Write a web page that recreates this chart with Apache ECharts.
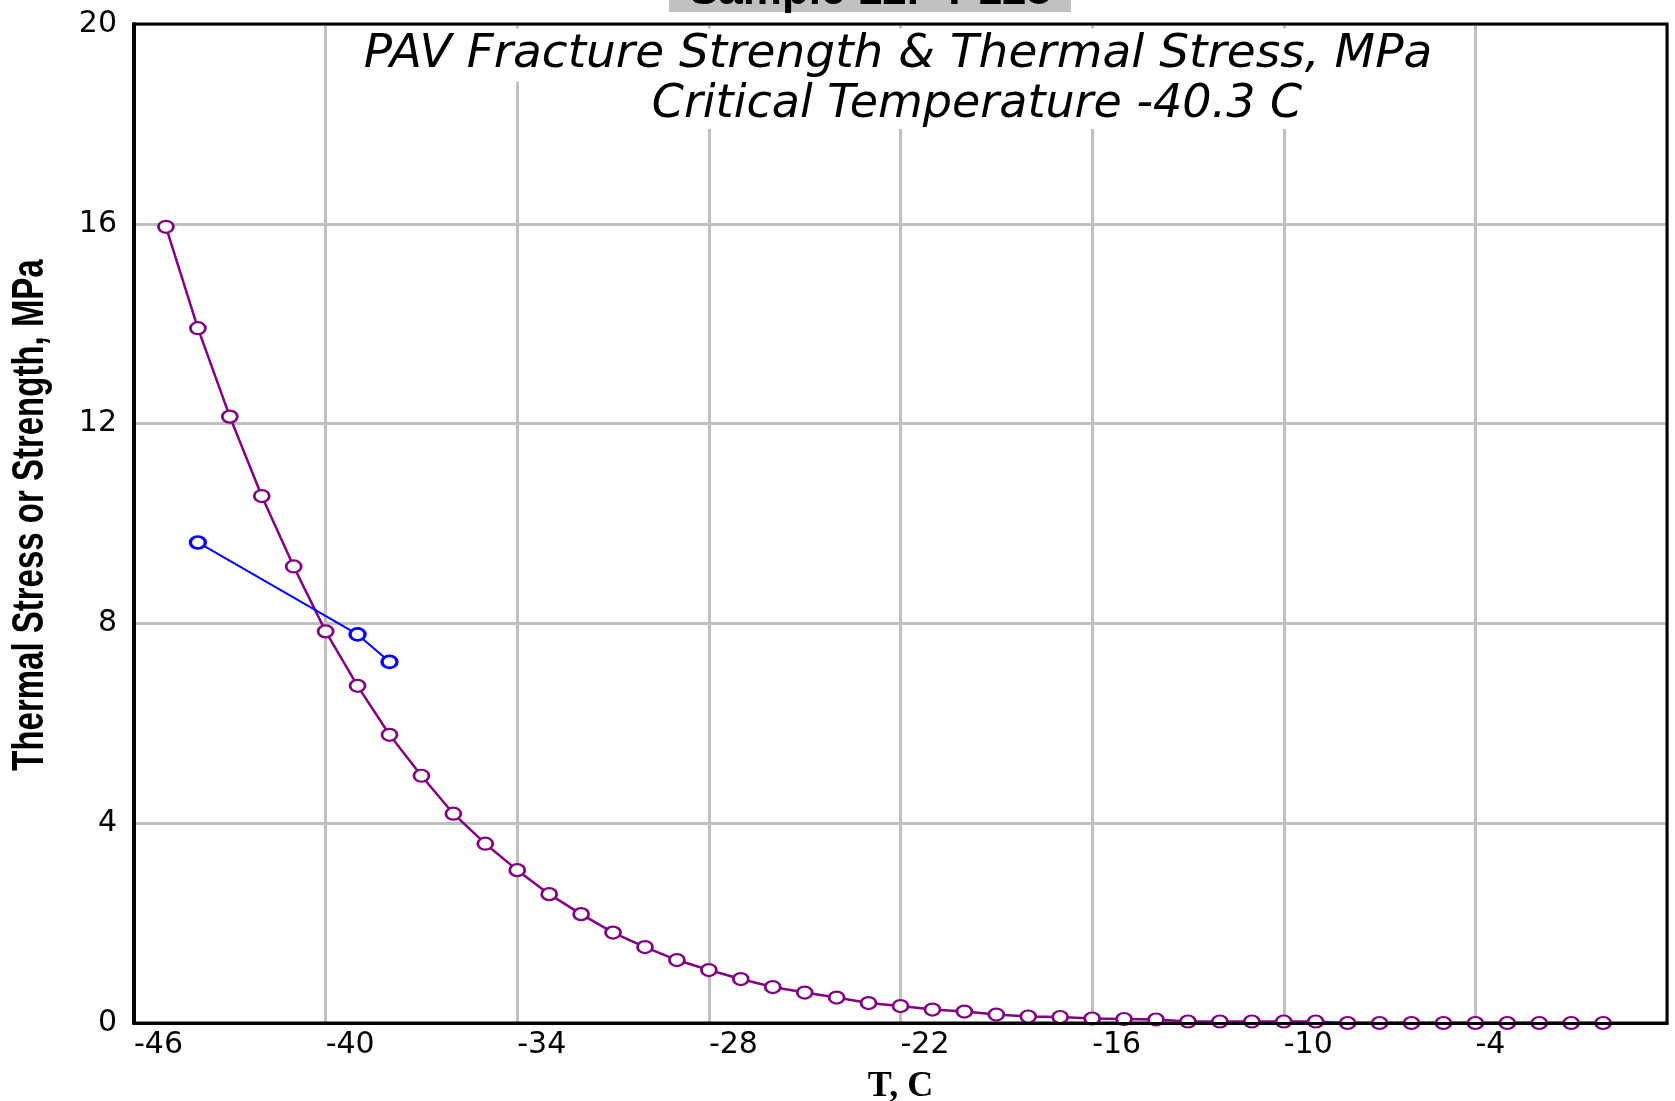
<!DOCTYPE html>
<html>
<head>
<meta charset="utf-8">
<title>PAV Fracture Strength & Thermal Stress</title>
<script src="https://cdn.jsdelivr.net/npm/echarts@6/dist/echarts.min.js"></script>
</head>
<body style="margin:0; background:#fff;">
<div id="main" style="width:1675px;height:1101px;"></div>
<script>
// thermal stress curve (purple), temperature in C
var stressT = [-45, -44, -43, -42, -41, -40, -39, -38, -37, -36,
               -35, -34, -33, -32, -31, -30, -29, -28, -27, -26,
               -25, -24, -23, -22, -21, -20, -19, -18, -17, -16,
               -15, -14, -13, -12, -11, -10, -9, -8, -7, -6,
               -5, -4, -3, -2, -1, 0];
var stressVal = [15.94, 13.91, 12.14, 10.55, 9.14, 7.84, 6.75, 5.77, 4.95, 4.19,
                 3.59, 3.06, 2.58, 2.18, 1.81, 1.52, 1.26, 1.06, 0.88, 0.72,
                 0.61, 0.51, 0.40, 0.34, 0.27, 0.23, 0.17, 0.13, 0.12, 0.09,
                 0.08, 0.07, 0.03, 0.03, 0.03, 0.03, 0.03, 0, 0, 0,
                 0, 0, 0, 0, 0, 0];

// fracture strength (blue)
var strengthT = [-44, -39, -38];
var strengthVal = [9.62, 7.78, 7.23];

var xMin = -46, xMax = 2, xStep = 6;
var yMin = 0, yMax = 20, yStep = 4;

var titleLine1 = 'PAV Fracture Strength & Thermal Stress, MPa';
var titleLine2 = 'Critical Temperature -40.3 C';
var sampleLabel = 'Sample 12P P128';

var myChart = echarts.init(document.getElementById('main'));

function pairs(xs, ys) {
    var out = [];
    for (var i = 0; i < xs.length; i++) out.push([xs[i], ys[i]]);
    return out;
}

var option = {
    backgroundColor: '#fff',
    animation: false,
    grid: {
        left: 134, right: 8, top: 24, bottom: 78, z: 1,
        outerBoundsMode: 'none', containLabel: false,
        show: true, borderColor: '#000', borderWidth: 3
    },
    xAxis: [{
        type: 'value', min: xMin, max: xMax, interval: xStep, position: 'bottom',
        name: 'T, C', nameLocation: 'middle', nameGap: 46,
        nameTextStyle: { fontFamily: 'Liberation Serif', fontWeight: 'bold', fontSize: 36, color: '#000' },
        axisLine: { onZero: false, lineStyle: { color: '#000', width: 3 } },
        axisTick: { show: false },
        axisLabel: { align: 'left', margin: 7, showMaxLabel: false,
                     fontFamily: 'DejaVu Sans', fontSize: 30, color: '#000' },
        splitLine: { show: true, lineStyle: { color: '#c0c0c0', width: 3 } }
    }, {
        // plain copy of the bottom line, drawn over the flat tail of the curve
        type: 'value', min: xMin, max: xMax, position: 'bottom', z: 5,
        axisLine: { onZero: false, lineStyle: { color: '#000', width: 3 } },
        axisTick: { show: false }, axisLabel: { show: false }, splitLine: { show: false }
    }],
    yAxis: {
        type: 'value', min: yMin, max: yMax, interval: yStep,
        axisLine: { show: true, onZero: false, lineStyle: { color: '#000', width: 4 } },
        axisTick: { show: false },
        axisLabel: { margin: 17, fontFamily: 'DejaVu Sans', fontSize: 30, color: '#000',
                     padding: [0, 0, 6, 0] },
        splitLine: { show: true, lineStyle: { color: '#c0c0c0', width: 3 } }
    },
    series: [{
        name: 'Thermal Stress', type: 'line', xAxisIndex: 0,
        data: pairs(stressT, stressVal),
        symbol: 'circle', symbolSize: [15, 12],
        lineStyle: { color: '#800080', width: 2.5 },
        itemStyle: { color: '#fff', borderColor: '#800080', borderWidth: 2.5 },
        emphasis: { disabled: true }
    }, {
        name: 'Fracture Strength', type: 'line', xAxisIndex: 0,
        data: pairs(strengthT, strengthVal),
        symbol: 'circle', symbolSize: [15, 12],
        lineStyle: { color: '#0000ff', width: 2 },
        itemStyle: { color: '#fff', borderColor: '#0000ff', borderWidth: 3 },
        emphasis: { disabled: true }
    }],
    graphic: [
        { type: 'rect', z: 10, shape: { x: 669, y: 0, width: 402, height: 12 },
          style: { fill: '#c0c0c0' } },
        { type: 'text', z: 11, x: 870, y: -8,
          style: { text: sampleLabel, font: 'bold 44px "Liberation Sans"', fill: '#000',
                   align: 'center', verticalAlign: 'middle' } },
        { type: 'text', z: 10, x: 898, y: 55,
          style: { text: titleLine1, font: 'italic 47px "DejaVu Sans"', fill: '#000',
                   align: 'center', verticalAlign: 'middle',
                   backgroundColor: '#fff', padding: [2, 20, 4, 20] } },
        { type: 'text', z: 10, x: 977, y: 105,
          style: { text: titleLine2, font: 'italic 46px "DejaVu Sans"', fill: '#000',
                   align: 'center', verticalAlign: 'middle', lineHeight: 30,
                   backgroundColor: '#fff', padding: [0, 20, 18, 20] } },
        { type: 'text', z: 10, x: 31, y: 515, rotation: Math.PI / 2, scaleX: 0.733,
          style: { text: 'Thermal Stress or Strength, MPa', font: 'bold 45px "Liberation Sans"',
                   fill: '#000', align: 'center', verticalAlign: 'middle' } }
    ]
};

myChart.setOption(option);
</script>
</body>
</html>
